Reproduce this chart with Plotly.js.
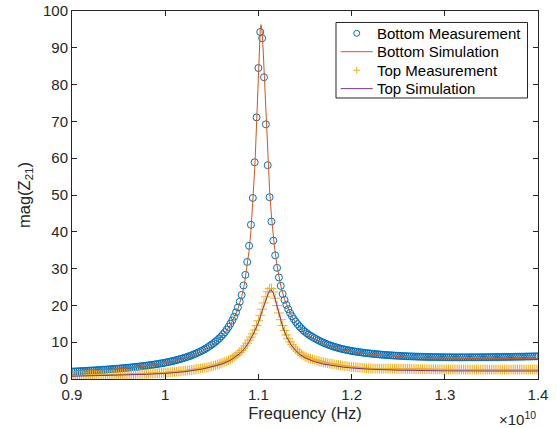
<!DOCTYPE html>
<html>
<head>
<meta charset="utf-8">
<script src="https://cdn.plot.ly/plotly-3.0.1.min.js"></script>
<style>
html,body{margin:0;padding:0;background:#fff;}
#chart{width:557px;height:428px;}
</style>
</head>
<body>
<div id="chart"></div>
<script>
// Frequency in units of 1e10 Hz
const freqMeas = [
0.900,0.902,0.904,0.906,0.908,0.910,0.912,0.914,0.916,0.918,
0.920,0.922,0.924,0.926,0.928,0.930,0.932,0.934,0.936,0.938,
0.940,0.942,0.944,0.946,0.948,0.950,0.952,0.954,0.956,0.958,
0.960,0.962,0.964,0.966,0.968,0.970,0.972,0.974,0.976,0.978,
0.980,0.982,0.984,0.986,0.988,0.990,0.992,0.994,0.996,0.998,
1.000,1.002,1.004,1.006,1.008,1.010,1.012,1.014,1.016,1.018,
1.020,1.022,1.024,1.026,1.028,1.030,1.032,1.034,1.036,1.038,
1.040,1.042,1.044,1.046,1.048,1.050,1.052,1.054,1.056,1.058,
1.060,1.062,1.064,1.066,1.068,1.070,1.072,1.074,1.076,1.078,
1.080,1.082,1.084,1.086,1.088,1.090,1.092,1.094,1.096,1.098,
1.100,1.102,1.104,1.106,1.108,1.110,1.112,1.114,1.116,1.118,
1.120,1.122,1.124,1.126,1.128,1.130,1.132,1.134,1.136,1.138,
1.140,1.142,1.144,1.146,1.148,1.150,1.152,1.154,1.156,1.158,
1.160,1.162,1.164,1.166,1.168,1.170,1.172,1.174,1.176,1.178,
1.180,1.182,1.184,1.186,1.188,1.190,1.192,1.194,1.196,1.198,
1.200,1.202,1.204,1.206,1.208,1.210,1.212,1.214,1.216,1.218,
1.220,1.222,1.224,1.226,1.228,1.230,1.232,1.234,1.236,1.238,
1.240,1.242,1.244,1.246,1.248,1.250,1.252,1.254,1.256,1.258,
1.260,1.262,1.264,1.266,1.268,1.270,1.272,1.274,1.276,1.278,
1.280,1.282,1.284,1.286,1.288,1.290,1.292,1.294,1.296,1.298,
1.300,1.302,1.304,1.306,1.308,1.310,1.312,1.314,1.316,1.318,
1.320,1.322,1.324,1.326,1.328,1.330,1.332,1.334,1.336,1.338,
1.340,1.342,1.344,1.346,1.348,1.350,1.352,1.354,1.356,1.358,
1.360,1.362,1.364,1.366,1.368,1.370,1.372,1.374,1.376,1.378,
1.380,1.382,1.384,1.386,1.388,1.390,1.392,1.394,1.396,1.398,
1.400];

const bottomMeasurement = [
2.01,2.04,2.07,2.09,2.12,2.14,2.17,2.20,2.23,2.26,
2.29,2.32,2.35,2.38,2.42,2.45,2.48,2.52,2.55,2.59,
2.63,2.67,2.71,2.75,2.79,2.83,2.88,2.92,2.97,3.02,
3.07,3.12,3.17,3.22,3.28,3.33,3.39,3.45,3.51,3.58,
3.64,3.71,3.78,3.86,3.93,4.01,4.09,4.18,4.26,4.35,
4.45,4.55,4.66,4.77,4.89,5.01,5.14,5.27,5.41,5.56,
5.71,5.87,6.04,6.22,6.41,6.61,6.82,7.04,7.28,7.52,
7.76,8.04,8.34,8.67,9.01,9.37,9.74,10.14,10.57,11.04,
11.55,12.12,12.73,13.42,14.18,15.04,15.93,16.94,18.10,19.45,
21.01,22.84,25.4,28.3,31.8,36.2,41.9,49.2,58.9,71.1,
84.5,94.3,92.6,82.0,69.2,58.1,49.4,42.8,37.6,33.6,
30.2,27.6,25.3,23.1,21.5,20.15,18.97,17.94,17.05,16.27,
15.57,14.91,14.31,13.77,13.28,12.84,12.43,12.06,11.73,11.42,
11.13,10.86,10.57,10.31,10.06,9.83,9.61,9.41,9.22,9.04,
8.87,8.71,8.56,8.41,8.28,8.15,8.04,7.92,7.82,7.73,
7.63,7.54,7.46,7.38,7.31,7.24,7.16,7.10,7.04,6.98,
6.93,6.87,6.82,6.77,6.72,6.67,6.63,6.58,6.54,6.50,
6.47,6.43,6.40,6.36,6.34,6.31,6.28,6.25,6.23,6.20,
6.18,6.15,6.14,6.12,6.10,6.08,6.07,6.05,6.03,6.02,
6.01,5.99,5.98,5.97,5.96,5.95,5.94,5.93,5.93,5.92,
5.91,5.90,5.91,5.90,5.90,5.90,5.89,5.90,5.89,5.90,
5.89,5.89,5.90,5.90,5.90,5.90,5.90,5.91,5.91,5.92,
5.92,5.92,5.93,5.93,5.94,5.94,5.95,5.96,5.96,5.97,
5.98,5.98,5.99,6.00,6.01,6.02,6.02,6.04,6.04,6.06,
6.06,6.07,6.08,6.09,6.11,6.11,6.12,6.14,6.14,6.16,
6.17];

const topMeasurement = [
0.92,0.93,0.94,0.94,0.95,0.96,0.97,0.98,0.99,1.00,
1.01,1.02,1.03,1.05,1.06,1.07,1.08,1.09,1.10,1.12,
1.13,1.14,1.16,1.17,1.18,1.20,1.21,1.23,1.24,1.26,
1.28,1.29,1.31,1.33,1.35,1.37,1.39,1.41,1.43,1.45,
1.46,1.49,1.51,1.53,1.56,1.58,1.61,1.63,1.66,1.69,
1.72,1.76,1.80,1.85,1.89,1.94,1.99,2.04,2.09,2.14,
2.20,2.26,2.32,2.39,2.45,2.52,2.60,2.68,2.76,2.85,
2.94,3.03,3.13,3.24,3.35,3.47,3.61,3.75,3.91,4.07,
4.25,4.44,4.65,4.87,5.10,5.36,5.67,6.01,6.37,6.78,
7.22,7.75,8.34,9.00,9.74,10.58,11.38,12.28,13.31,14.48,
15.81,17.31,18.95,20.67,22.33,23.72,24.56,24.61,23.65,21.95,
19.94,17.94,16.12,14.52,13.14,11.96,10.95,10.08,9.33,8.67,
8.10,7.59,7.14,6.74,6.38,6.12,5.89,5.69,5.51,5.35,
5.21,5.04,4.90,4.75,4.63,4.51,4.41,4.30,4.22,4.13,
4.06,3.95,3.86,3.78,3.70,3.62,3.55,3.48,3.42,3.35,
3.30,3.24,3.19,3.14,3.09,3.04,3.00,2.96,2.92,2.88,
2.84,2.83,2.83,2.82,2.82,2.81,2.80,2.80,2.79,2.79,
2.78,2.78,2.77,2.76,2.76,2.75,2.74,2.74,2.73,2.72,
2.72,2.71,2.71,2.70,2.69,2.69,2.68,2.67,2.67,2.66,
2.66,2.65,2.64,2.64,2.63,2.63,2.62,2.61,2.61,2.60,
2.60,2.60,2.59,2.59,2.59,2.59,2.58,2.58,2.58,2.58,
2.58,2.57,2.57,2.57,2.57,2.57,2.56,2.56,2.56,2.56,
2.56,2.56,2.55,2.55,2.55,2.55,2.55,2.55,2.55,2.55,
2.55,2.55,2.55,2.56,2.56,2.56,2.56,2.56,2.56,2.56,
2.56,2.57,2.57,2.57,2.57,2.57,2.57,2.57,2.58,2.58,
2.58];

const freqBottomSim = [0.90,0.92,0.94,0.96,0.98,1.00,1.01,1.02,1.03,1.04,1.05,1.055,1.06,1.065,1.07,1.074,1.078,1.082,1.085,1.088,1.090,1.092,1.094,1.096,1.097,1.098,1.099,1.100,1.101,1.102,1.1028,1.1035,1.104,1.105,1.106,1.107,1.108,1.110,1.112,1.114,1.117,1.120,1.124,1.128,1.132,1.136,1.140,1.145,1.150,1.155,1.160,1.170,1.180,1.190,1.200,1.210,1.220,1.240,1.260,1.280,1.300,1.320,1.340,1.360,1.380,1.400];
const bottomSimulation = [1.9,2.2,2.5,2.95,3.55,4.35,4.9,5.6,6.45,7.6,9.2,10.15,11.35,12.85,14.7,16.6,19.1,22.3,25.8,30.6,34.8,40.3,47.4,56.8,62.7,69.3,76.5,83.8,90.4,94.9,96.3,95.6,94.3,90.0,84.3,78.0,71.7,60.4,51.4,44.3,36.4,30.8,25.3,21.6,19.0,16.9,15.4,13.9,12.6,11.7,10.9,9.6,8.65,7.95,7.45,7.05,6.75,6.25,5.9,5.7,5.6,5.55,5.53,5.54,5.58,5.64];

const freqTopSim = [0.90,0.92,0.94,0.96,0.98,1.00,1.02,1.04,1.05,1.06,1.07,1.08,1.085,1.09,1.095,1.10,1.105,1.108,1.111,1.1135,1.116,1.118,1.120,1.123,1.126,1.130,1.135,1.140,1.145,1.150,1.160,1.170,1.180,1.190,1.200,1.220,1.250,1.280,1.300,1.350,1.400];
const topSimulation = [0.75,0.85,0.97,1.1,1.28,1.52,1.95,2.7,3.25,4.0,5.1,6.9,8.2,10.1,12.5,15.3,19.2,21.7,23.5,24.3,23.4,21.7,19.7,16.7,14.2,11.6,9.3,7.75,6.6,5.75,4.7,4.05,3.6,3.25,3.0,2.65,2.4,2.27,2.22,2.18,2.18];

const seriesNames = ['Bottom Measurement','Bottom Simulation','Top Measurement','Top Simulation'];
const seriesColors = ['#0072BD','#D95319','#EDB120','#7E2F8E'];
const xTickVals = [0.9,1.0,1.1,1.2,1.3,1.4];
const xTickText = ['0.9','1','1.1','1.2','1.3','1.4'];
const yTickVals = [0,10,20,30,40,50,60,70,80,90,100];

const FONT = 'Liberation Sans, Arial, Helvetica, sans-serif';
const AX = '#262626';

const traces = [
  {x: freqMeas, y: bottomMeasurement, name: seriesNames[0], type: 'scatter', mode: 'markers',
   marker: {symbol: 'circle-open', size: 7, color: seriesColors[0], line: {width: 1, color: seriesColors[0]}}},
  {x: freqBottomSim, y: bottomSimulation, name: seriesNames[1], type: 'scatter', mode: 'lines',
   line: {color: seriesColors[1], width: 1}},
  {x: freqMeas, y: topMeasurement, name: seriesNames[2], type: 'scatter', mode: 'markers',
   marker: {symbol: 'cross-thin-open', size: 7, color: seriesColors[2], line: {width: 1, color: seriesColors[2]}}},
  {x: freqTopSim, y: topSimulation, name: seriesNames[3], type: 'scatter', mode: 'lines',
   line: {color: seriesColors[3], width: 1}}
];

// ---- custom legend (paper coordinates) ----
const LEG = {x0: 0.5665, x1: 0.9775, y0: 0.7636, y1: 0.9688,
             rows: [0.9394, 0.8894, 0.8389, 0.7890],
             lineX0: 0.5766, lineX1: 0.6453, symX: 0.6110, textX: 0.6500};
const shapes = [
  {type: 'rect', xref: 'paper', yref: 'paper', x0: LEG.x0, x1: LEG.x1, y0: LEG.y0, y1: LEG.y1,
   fillcolor: '#fff', line: {color: AX, width: 1}, layer: 'above'},
  {type: 'circle', xref: 'paper', yref: 'paper', xsizemode: 'pixel', ysizemode: 'pixel',
   xanchor: LEG.symX, yanchor: LEG.rows[0], x0: -3, x1: 3, y0: -3, y1: 3,
   line: {color: seriesColors[0], width: 1}, layer: 'above'},
  {type: 'line', xref: 'paper', yref: 'paper', x0: LEG.lineX0, x1: LEG.lineX1, y0: LEG.rows[1], y1: LEG.rows[1],
   line: {color: seriesColors[1], width: 1}, layer: 'above'},
  {type: 'path', xref: 'paper', yref: 'paper', xsizemode: 'pixel', ysizemode: 'pixel',
   xanchor: LEG.symX, yanchor: LEG.rows[2], path: 'M-3.5,0H3.5M0,-3.5V3.5',
   line: {color: seriesColors[2], width: 1}, layer: 'above'},
  {type: 'line', xref: 'paper', yref: 'paper', x0: LEG.lineX0, x1: LEG.lineX1, y0: LEG.rows[3], y1: LEG.rows[3],
   line: {color: seriesColors[3], width: 1}, layer: 'above'}
];
const annotations = seriesNames.map((n, i) => ({
  text: n, xref: 'paper', yref: 'paper', x: LEG.textX, y: LEG.rows[i],
  xanchor: 'left', yanchor: 'middle', showarrow: false,
  font: {family: FONT, size: 15, color: '#000'}
}));
annotations.push({text: '×10<sup>10</sup>', xref: 'paper', yref: 'paper', x: 1.0, y: -0.075,
  xanchor: 'right', yanchor: 'top', showarrow: false,
  font: {family: FONT, size: 15, color: AX}});

const layout = {
  width: 557, height: 428,
  margin: {l: 72, r: 19, t: 11, b: 49, pad: 0},
  paper_bgcolor: '#fff', plot_bgcolor: '#fff',
  font: {family: FONT, size: 15, color: AX},
  showlegend: false,
  xaxis: {
    range: [0.9, 1.4], tickvals: xTickVals, ticktext: xTickText,
    ticks: 'inside', ticklen: 5, tickwidth: 1, tickcolor: AX,
    showline: true, linecolor: AX, linewidth: 1, mirror: 'allticks',
    showgrid: false, zeroline: false, ticklabelstandoff: 2,
    tickfont: {family: FONT, size: 15, color: AX},
    title: {text: 'Frequency (Hz)', font: {family: FONT, size: 16.5, color: AX}, standoff: 5}
  },
  yaxis: {
    range: [0, 100], tickvals: yTickVals,
    ticks: 'inside', ticklen: 5, tickwidth: 1, tickcolor: AX,
    showline: true, linecolor: AX, linewidth: 1, mirror: 'allticks',
    showgrid: false, zeroline: false,
    tickfont: {family: FONT, size: 15, color: AX},
    title: {text: 'mag(Z<sub>21</sub>)', font: {family: FONT, size: 16.5, color: AX}, standoff: 8}
  },
  shapes: shapes,
  annotations: annotations
};

Plotly.newPlot('chart', traces, layout, {displayModeBar: false, staticPlot: true});
</script>
</body>
</html>
